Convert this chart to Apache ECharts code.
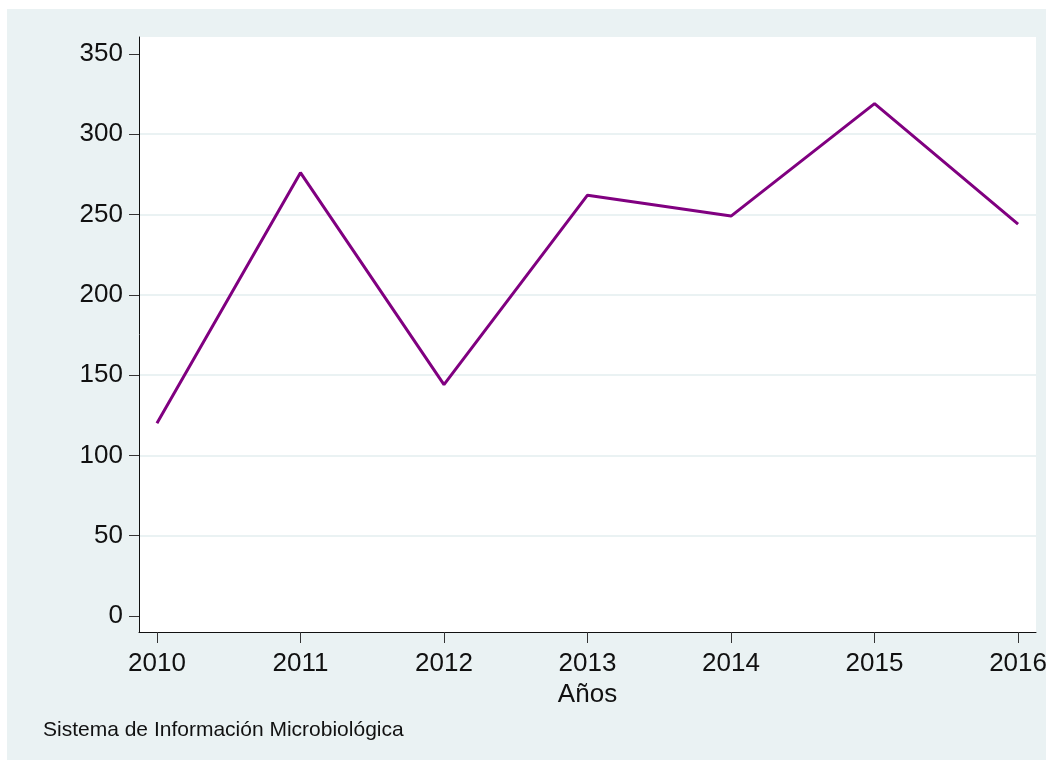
<!DOCTYPE html>
<html lang="es">
<head>
    <meta charset="UTF-8">
    <title>Sistema de Información Microbiológica</title>
    <script src="https://cdn.jsdelivr.net/npm/echarts@6/dist/echarts.min.js"></script>
    <style>
        * { margin: 0; padding: 0 }
        html, body { width: 100%; height: 100%; background: #fff; }
        #chart { width: 1052px; height: 769px; }
    </style>
</head>
<body>
<div id="chart"></div>
<script>
    // years and counts
    var years = [2010, 2011, 2012, 2013, 2014, 2015, 2016];
    var counts = [120, 276, 144, 262, 249, 319, 244];
    var yTicks = [0, 50, 100, 150, 200, 250, 300, 350];
    var gridTicks = [50, 100, 150, 200, 250, 300];

    var points = years.map(function (y, i) { return [y, counts[i]]; });

    var myChart = echarts.init(document.getElementById('chart'));
    var font = 'Liberation Sans, Arial, sans-serif';

    option = {
        backgroundColor: '#ffffff',
        animation: false,
        graphic: [
            {
                type: 'rect', z: -10, silent: true,
                shape: {x: 7, y: 9, width: 1039, height: 751},
                style: {fill: '#eaf2f3'}
            },
            {
                type: 'rect', z: -9, silent: true,
                shape: {x: 139, y: 37, width: 897, height: 595},
                style: {fill: '#ffffff'}
            },
            {
                type: 'text', left: 43, top: 720,
                style: {text: 'Sistema de Información Microbiológica', fill: '#111', font: '21px ' + font}
            }
        ],
        grid: {left: 139, right: 16, top: 37, bottom: 137, containLabel: false},
        xAxis: {
            type: 'value',
            min: 2009.875,
            max: 2016.125,
            name: 'Años',
            nameLocation: 'middle',
            nameGap: 45,
            nameTextStyle: {color: '#111', fontSize: 26, fontFamily: font},
            axisLine: {show: true, onZero: false, lineStyle: {color: '#111', width: 1}},
            axisTick: {show: true, length: 11, customValues: years, lineStyle: {color: '#333'}},
            axisLabel: {customValues: years, color: '#111', fontSize: 26, fontFamily: font, margin: 19,
                formatter: function (v) { return String(v); }},
            splitLine: {show: false}
        },
        yAxis: [
            {
                type: 'value',
                min: -10,
                max: 360.5,
                axisLine: {show: true, onZero: false, lineStyle: {color: '#111', width: 1}},
                axisTick: {show: true, length: 10, customValues: yTicks, lineStyle: {color: '#333'}},
                axisLabel: {customValues: yTicks, color: '#111', fontSize: 26, fontFamily: font, margin: 16},
                splitLine: {show: false}
            },
            {
                // only for the inner grid lines
                type: 'value',
                position: 'left',
                min: -10,
                max: 360.5,
                axisLine: {show: false},
                axisTick: {show: false, customValues: gridTicks},
                axisLabel: {show: false, customValues: gridTicks},
                splitLine: {show: true, lineStyle: {color: '#eaf2f3', width: 2}}
            }
        ],
        series: [{
            type: 'line',
            data: points,
            symbol: 'none',
            lineStyle: {color: '#800080', width: 3}
        }]
    };

    myChart.setOption(option);
</script>
</body>
</html>
